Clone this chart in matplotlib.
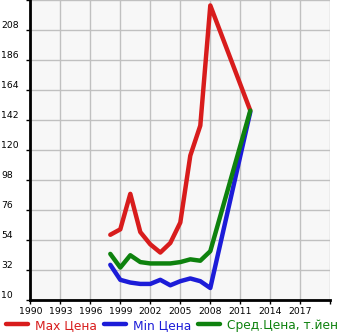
import matplotlib
matplotlib.use("Agg")
import matplotlib.pyplot as plt
from matplotlib import transforms

years = [1998, 1999, 2000, 2001, 2002, 2003, 2004, 2005, 2006, 2007, 2008, 2012]
max_price = [58, 62, 88, 60, 51, 45, 52, 67, 116, 138, 226, 149]
min_price = [36, 25, 23, 22, 22, 25, 21, 24, 26, 24, 19, 148]
avg_price = [44, 34, 43, 38, 37, 37, 37, 38, 40, 39, 46, 149]

labels = ["Max Цена", "Min Цена", "Сред.Цена, т.йен"]
colors = ["#d81c1c", "#1c1cd8", "#0e820e"]

x_ticks = list(range(1990, 2020, 3))
y_ticks = list(range(10, 230, 22))

fig = plt.figure(figsize=(3.45, 3.35), dpi=100)
ax = fig.add_axes([30.3 / 345, 1 - 300.3 / 335, 300 / 345, 300.3 / 335])
ax.set_facecolor("#f7f7f7")

for vals, lab, col in zip([max_price, min_price, avg_price], labels, colors):
    ax.plot(years, vals, color=col, lw=3.2, label=lab,
            solid_capstyle="round", solid_joinstyle="round")

ax.set_xlim(1990, 2020)
ax.set_ylim(10, 230)
ax.set_xticks(x_ticks + [2020])
ax.set_xticklabels([str(y) for y in x_ticks] + [""])
ax.set_yticks(y_ticks + [230])
ax.set_yticklabels([])
ax.grid(True, color="#c0c0c0", lw=1)
ax.set_axisbelow(True)

for s in ["top", "right"]:
    ax.spines[s].set_visible(False)
for s in ["left", "bottom"]:
    ax.spines[s].set_linewidth(2)
    ax.spines[s].set_color("black")

ax.tick_params(axis="x", length=3, width=1, pad=2, labelsize=6.7)
ax.tick_params(axis="y", length=3, width=1, pad=2)

# y labels sit above their gridline, flush to the left edge
trans = transforms.blended_transform_factory(fig.transFigure, ax.transData)
for v in y_ticks:
    ax.text(1 / 345, v, str(v), transform=trans, fontsize=6.7,
            ha="left", va="bottom", clip_on=False)

fig.legend(loc="lower left", bbox_to_anchor=(-0.005, -0.012), ncol=3,
           frameon=False, fontsize=8.8, handlelength=1.8, handletextpad=0.6,
           columnspacing=0.55, labelcolor="linecolor", borderaxespad=0.2)

fig.savefig("out.png", dpi=100)
